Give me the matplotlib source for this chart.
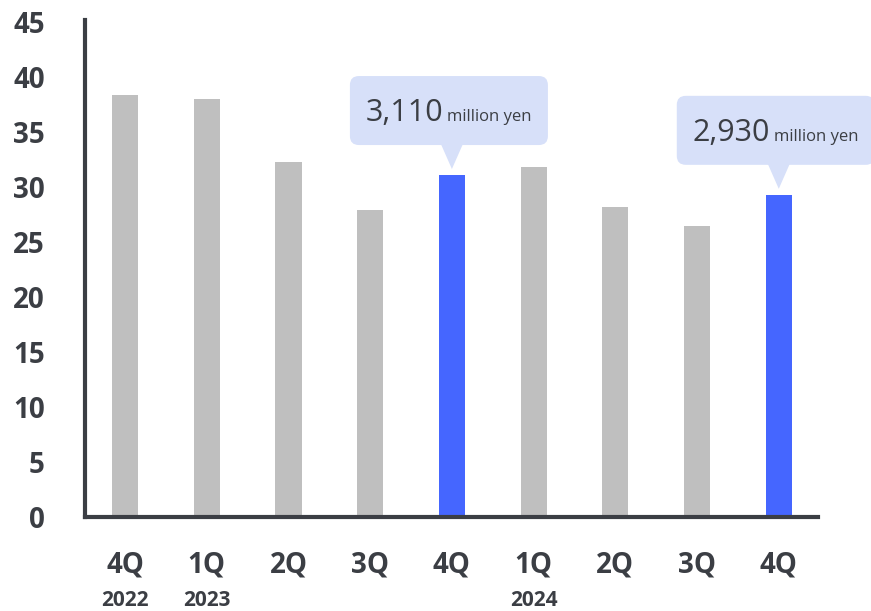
import matplotlib.pyplot as plt
import matplotlib.transforms as mtransforms
from matplotlib.patches import FancyBboxPatch, Polygon

# --- Data ---
quarters = ["4Q", "1Q", "2Q", "3Q", "4Q", "1Q", "2Q", "3Q", "4Q"]
values = [38.4, 38.0, 32.3, 27.9, 31.1, 31.8, 28.2, 26.5, 29.3]
highlight = [False, False, False, False, True, False, False, False, True]
year_labels = {0: "2022", 1: "2023", 5: "2024"}
callouts = {4: "3,110", 8: "2,930"}

GRAY = "#bfbfbf"
BLUE = "#4566ff"
BUBBLE = "#d7e0f9"
DARK = "#3b3e44"
DPI = 100

plt.rcParams["font.family"] = ["Open Sans", "DejaVu Sans"]

fig = plt.figure(figsize=(8.71, 6.11), dpi=DPI)
ax = fig.add_axes([85 / 871, 94 / 611, 733 / 871, 497 / 611])

x = list(range(len(values)))
colors = [BLUE if h else GRAY for h in highlight]
ax.bar(x, values, width=0.32, color=colors, zorder=2)

ax.set_xlim(-0.49, 8.48)
ax.set_ylim(0, 45.2)
ax.set_yticks(range(0, 46, 5))
ax.set_xticks(x)
ax.set_xticklabels(quarters)

for side in ("top", "right"):
    ax.spines[side].set_visible(False)
for side in ("left", "bottom"):
    ax.spines[side].set_linewidth(3)
    ax.spines[side].set_color(DARK)

ax.tick_params(axis="both", length=0, colors=DARK, labelsize=20)
ax.tick_params(axis="y", pad=29)
ax.tick_params(axis="x", pad=24)
for lbl in ax.get_xticklabels() + ax.get_yticklabels():
    lbl.set_fontweight("bold")

# year labels under the first quarter of each year
for i, yr in year_labels.items():
    trans = ax.get_xaxis_transform() + mtransforms.ScaledTranslation(
        0, -84 / DPI, fig.dpi_scale_trans)
    ax.text(i, 0, yr, transform=trans, ha="center", va="center",
            fontsize=15, fontweight="bold", color=DARK)

# speech-bubble callouts above highlighted bars (shapes in pixels from bar top)
for i, label in callouts.items():
    anchor = mtransforms.ScaledTranslation(i, values[i], ax.transData)
    trans = mtransforms.Affine2D().scale(1 / DPI) + fig.dpi_scale_trans + anchor
    box = FancyBboxPatch((-102, 30), 198, 69,
                         boxstyle="round,pad=0,rounding_size=9",
                         facecolor=BUBBLE, edgecolor="none",
                         transform=trans, clip_on=False, zorder=3)
    ax.add_patch(box)
    tail = Polygon([(-11, 31), (11, 31), (0, 6)], closed=True,
                   facecolor=BUBBLE, edgecolor="none",
                   transform=trans, clip_on=False, zorder=3)
    ax.add_patch(tail)
    ax.text(-9, 54, label, transform=trans, ha="right", va="baseline",
            fontsize=22, color=DARK, zorder=4)
    ax.text(-5, 54, "million yen", transform=trans, ha="left", va="baseline",
            fontsize=12, color=DARK, zorder=4)

fig.savefig("out.png", dpi=DPI)
